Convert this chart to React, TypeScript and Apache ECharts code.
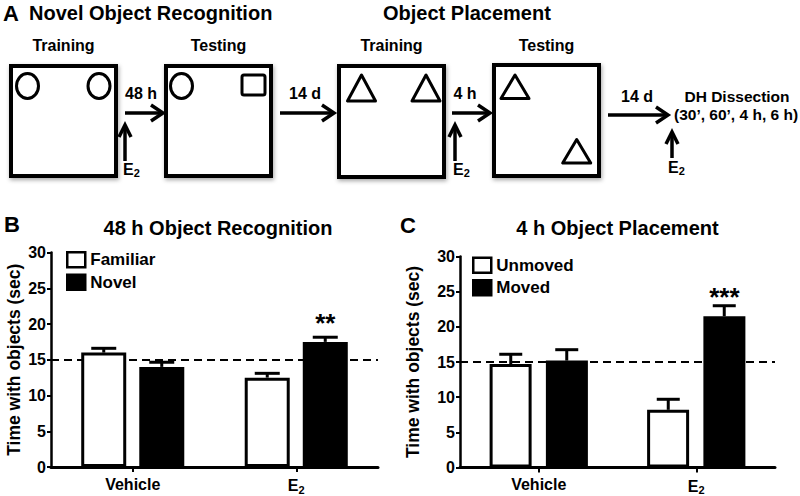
import React, { useEffect, useRef } from "react";
import * as echarts from "echarts";

const FONT = '"Liberation Sans", Arial, Helvetica, sans-serif';

// ---- data ----
const categories = ["Vehicle", "E2"];
const yMin = 0;
const yMax = 30;
const yStep = 5;
const refLine = 15;

const familiar = [16.0, 12.5];
const familiarErr = [0.6, 0.6];
const novel = [14.0, 17.5];
const novelErr = [0.65, 0.65];
const recognitionSig = ["", "**"];

const unmoved = [14.7, 8.2];
const unmovedErr = [1.4, 1.5];
const moved = [15.2, 21.5];
const movedErr = [1.55, 1.5];
const placementSig = ["", "***"];

function barSeries(name: string, values: number[], sig: string[], xi: number, fill: string, barWidth: number, barGap: string, withRef: boolean) {
  const s: any = {
    type: "bar",
    name,
    xAxisIndex: xi,
    yAxisIndex: xi,
    barWidth,
    barGap,
    z: 2,
    silent: true,
    data: values.map((v, i) => ({ value: v, label: { show: !!sig[i], formatter: sig[i] } })),
    itemStyle: { color: fill, borderColor: "#000", borderWidth: 3 },
    label: { position: "top", distance: 6, fontSize: 26, fontWeight: "bold", color: "#000", fontFamily: FONT },
  };
  if (withRef) {
    s.markLine = {
      z: 1,
      silent: true,
      symbol: ["none", "none"],
      label: { show: false },
      lineStyle: { type: [8, 5], color: "#000", width: 2 },
      data: [{ yAxis: refLine }],
    };
  }
  return s;
}

function errSeries(name: string, values: number[], errs: number[], xi: number, offset: number, capW: number) {
  return {
    type: "custom",
    name,
    xAxisIndex: xi,
    yAxisIndex: xi,
    z: 3,
    silent: true,
    data: values.map((v, i) => [i, v, errs[i]]),
    renderItem: (params: any, api: any) => {
      const c = api.value(0);
      const m = api.value(1);
      const e = api.value(2);
      const p0 = api.coord([c, m]);
      const p1 = api.coord([c, m + e]);
      const x = p0[0] + offset;
      const st = { stroke: "#000", lineWidth: 3 };
      return {
        type: "group",
        children: [
          { type: "line", shape: { x1: x, y1: p0[1], x2: x, y2: p1[1] }, style: st },
          { type: "line", shape: { x1: x - capW / 2, y1: p1[1], x2: x + capW / 2, y2: p1[1] }, style: st },
        ],
      };
    },
  };
}

function T(text: string, x: number, y: number, size: number, align = "center") {
  return {
    type: "text",
    x,
    y,
    style: { text, fontSize: size, fontWeight: "bold", fontFamily: FONT, fill: "#000", align, verticalAlign: "middle" },
  };
}
function E2(x: number, y: number) {
  return {
    type: "text",
    x,
    y,
    style: {
      text: "{e|E}{s|2}",
      fill: "#000",
      align: "left",
      verticalAlign: "middle",
      rich: {
        e: { fontSize: 16, fontWeight: "bold", fontFamily: FONT, fill: "#000" },
        s: { fontSize: 11, fontWeight: "bold", fontFamily: FONT, fill: "#000", padding: [8, 0, 0, 0] },
      },
    },
  };
}
const boxStyle = {
  fill: "#fff",
  stroke: "#000",
  lineWidth: 4,
  shadowBlur: 4,
  shadowOffsetX: 1,
  shadowOffsetY: 2,
  shadowColor: "rgba(0,0,0,0.35)",
};
function box(x: number, y: number, w: number, h: number) {
  return { type: "rect", shape: { x, y, width: w, height: h }, style: boxStyle };
}
const objStyle = { fill: "#fff", stroke: "#000", lineWidth: 3, lineJoin: "round" };
function oval(cx: number, cy: number) {
  return { type: "ellipse", shape: { cx, cy, rx: 11, ry: 12.5 }, style: objStyle };
}
function tri(cx: number, top: number, bottom: number, half: number) {
  return { type: "polygon", shape: { points: [[cx, top], [cx - half, bottom], [cx + half, bottom]] }, style: objStyle };
}
const lineSt = { stroke: "#000", lineWidth: 3.5, fill: "none" };
function hArrow(x1: number, x2: number, y: number) {
  return [
    { type: "line", shape: { x1, y1: y, x2: x2 - 2, y2: y }, style: lineSt },
    { type: "polyline", shape: { points: [[x2 - 12, y - 8], [x2, y], [x2 - 12, y + 8]] }, style: lineSt },
  ];
}
function vArrow(x: number, y1: number, y2: number) {
  return [
    { type: "line", shape: { x1: x, y1, x2: x, y2: y2 + 2 }, style: lineSt },
    { type: "polyline", shape: { points: [[x - 6, y2 + 12], [x, y2], [x + 6, y2 + 12]] }, style: lineSt },
  ];
}

function yAxis(gi: number, nameGap: number) {
  return {
    type: "value",
    gridIndex: gi,
    min: yMin,
    max: yMax,
    interval: yStep,
    name: "Time with objects (sec)",
    nameLocation: "middle",
    nameRotate: 90,
    nameGap,
    nameTextStyle: { fontSize: 17.5, fontWeight: "bold", fontFamily: FONT, color: "#000" },
    axisLine: { show: true, lineStyle: { color: "#000", width: 2.5 } },
    axisTick: { show: true, length: 4, lineStyle: { color: "#000", width: 2 } },
    splitLine: { show: false },
    axisLabel: { fontSize: 16, fontWeight: "bold", fontFamily: FONT, color: "#000", margin: 5 },
  };
}
function xAxis(gi: number) {
  return {
    type: "category",
    gridIndex: gi,
    data: categories,
    axisLine: { show: true, lineStyle: { color: "#000", width: 3 } },
    axisTick: { show: true, alignWithLabel: true, length: 5, lineStyle: { color: "#000", width: 2 } },
    axisLabel: {
      margin: 9,
      color: "#000",
      formatter: (v: string) => (v === "E2" ? "{e|E}{s|2}" : "{e|" + v + "}"),
      rich: {
        e: { fontSize: 16, fontWeight: "bold", fontFamily: FONT, color: "#000" },
        s: { fontSize: 11, fontWeight: "bold", fontFamily: FONT, color: "#000", padding: [8, 0, 0, 0] },
      },
    },
  };
}
const legendText = { fontSize: 17, fontWeight: "bold", fontFamily: FONT, color: "#000", lineHeight: 17 };

export default function App() {
  const ref = useRef<HTMLDivElement>(null);
  useEffect(() => {
    if (!ref.current) return;
    const chart = echarts.init(ref.current, null, { renderer: "svg" });
    const graphic: any[] = [
      T("A", 3, 13, 22, "left"),
      T("Novel Object Recognition", 29, 12.5, 20, "left"),
      T("Object Placement", 383, 12.5, 20, "left"),
      T("Training", 63.5, 45, 16),
      T("Testing", 218.5, 45, 16),
      T("Training", 391.5, 45, 16),
      T("Testing", 546.5, 45, 16),
      box(11, 66, 105, 110),
      box(166, 66, 105, 110),
      box(339, 66, 105, 111),
      box(494, 65, 105, 111),
      oval(27.5, 86),
      oval(99, 86),
      oval(181.5, 86),
      { type: "rect", shape: { x: 242, y: 75, width: 23, height: 20, r: 2 }, style: objStyle },
      tri(361.5, 75, 101, 14),
      tri(426, 75, 101, 14),
      tri(515, 75, 98.5, 14),
      tri(576.7, 139.5, 163, 14),
      ...hArrow(125, 163, 113),
      ...hArrow(280, 334, 113),
      ...hArrow(452, 490, 113),
      ...hArrow(608, 668, 115),
      ...vArrow(125, 161, 125),
      ...vArrow(455, 161, 125),
      ...vArrow(672, 158, 132),
      T("48 h", 141, 93, 16),
      T("14 d", 305, 93, 16),
      T("4 h", 465, 93, 16),
      T("14 d", 637, 96, 16),
      T("DH Dissection", 737, 96, 15.5),
      T("(30\u2019, 60\u2019, 4 h, 6 h)", 674, 114.5, 15.5, "left"),
      E2(123, 169),
      E2(453, 169),
      E2(668, 167),
      T("B", 4, 224, 22, "left"),
      T("48 h Object Recognition", 218, 227.5, 20),
      T("C", 400, 225, 22, "left"),
      T("4 h Object Placement", 617.5, 228, 20),
    ];
    chart.setOption({
      animation: false,
      backgroundColor: "#fff",
      grid: [
        { left: 51, right: 422, top: 252.5, bottom: 29 },
        { left: 460, right: 25, top: 256.5, bottom: 28.5 },
      ],
      xAxis: [xAxis(0), xAxis(1)],
      yAxis: [yAxis(0, 28), yAxis(1, 38)],
      legend: [
        {
          orient: "vertical",
          left: 66,
          top: 251,
          padding: 0,
          itemWidth: 18,
          itemHeight: 15,
          itemGap: 5,
          icon: "rect",
          selectedMode: false,
          textStyle: legendText,
          data: [
            { name: "Familiar", itemStyle: { color: "#fff", borderColor: "#000", borderWidth: 2.5 } },
            { name: "Novel", itemStyle: { color: "#000", borderColor: "#000", borderWidth: 2.5 } },
          ],
        },
        {
          orient: "vertical",
          left: 472,
          top: 256.5,
          padding: 0,
          itemWidth: 18,
          itemHeight: 15,
          itemGap: 5,
          icon: "rect",
          selectedMode: false,
          textStyle: legendText,
          data: [
            { name: "Unmoved", itemStyle: { color: "#fff", borderColor: "#000", borderWidth: 2.5 } },
            { name: "Moved", itemStyle: { color: "#000", borderColor: "#000", borderWidth: 2.5 } },
          ],
        },
      ],
      graphic,
      series: [
        barSeries("Familiar", familiar, ["", ""], 0, "#fff", 45, "29%", true),
        barSeries("Novel", novel, recognitionSig, 0, "#000", 45, "29%", false),
        errSeries("Familiar err", familiar, familiarErr, 0, -29, 25),
        errSeries("Novel err", novel, novelErr, 0, 29, 25),
        barSeries("Unmoved", unmoved, ["", ""], 1, "#fff", 42, "34%", true),
        barSeries("Moved", moved, placementSig, 1, "#000", 42, "34%", false),
        errSeries("Unmoved err", unmoved, unmovedErr, 1, -28, 23),
        errSeries("Moved err", moved, movedErr, 1, 28, 23),
      ],
    });
    return () => chart.dispose();
  }, []);
  return (
    <div
      ref={ref}
      style={{ position: "absolute", left: 0, top: 0, width: 800, height: 496, background: "#fff" }}
    />
  );
}
